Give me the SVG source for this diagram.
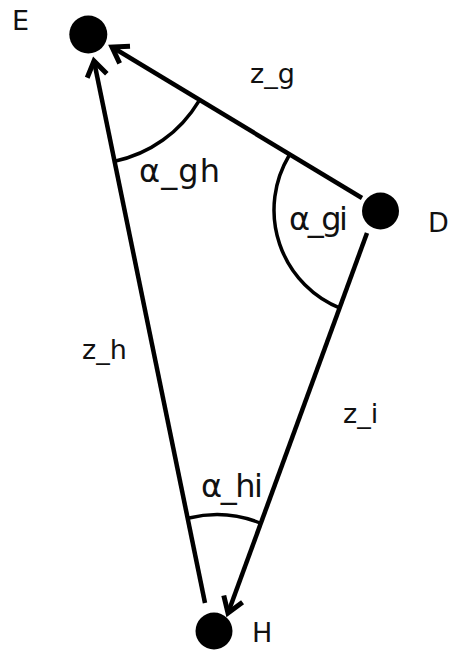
<svg xmlns="http://www.w3.org/2000/svg" width="450" height="652" viewBox="0 0 450 652">
<style>
.node{fill:#000}
.edge{stroke:#000;stroke-width:4.5;fill:none}
.arc{stroke:#000;stroke-width:3.5;fill:none}
.lbl{font-family:"DejaVu Sans",sans-serif;font-size:27px;fill:#111}
.ang{font-family:"DejaVu Sans",sans-serif;font-size:32px;fill:#111}
</style>
<defs>
<marker id="arr" markerUnits="userSpaceOnUse" markerWidth="30" markerHeight="30" viewBox="-16 -12 20 24" refX="0" refY="0" orient="auto">
<path d="M-12,-8 L0,0 L-12,8" stroke="#000" stroke-width="4" fill="none" stroke-linejoin="miter"/>
</marker>
</defs>
<rect width="450" height="652" fill="#fff"/>
<g id="connectors">
<line class="edge" x1="362" y1="198" x2="112" y2="47" marker-end="url(#arr)"/>
<line class="edge" x1="205" y1="603" x2="94" y2="61" marker-end="url(#arr)"/>
<line class="edge" x1="367" y1="233" x2="228" y2="613" marker-end="url(#arr)"/>
<text class="lbl" x="250" y="83">z_g</text>
<text class="lbl" x="82" y="359">z_h</text>
<text class="lbl" x="343" y="423">z_i</text>
</g>
<g id="angles">
<path class="arc" d="M114.7,161.2 A129,129 0 0 0 198.7,101.3"/>
<path class="arc" d="M289.1,155.5 A106,106 0 0 0 341.1,308.6"/>
<path class="arc" d="M189,518 A116,116 0 0 1 260,523"/>
<text class="ang" x="139" y="182" textLength="81" lengthAdjust="spacing">α_gh</text>
<text class="ang" x="289" y="230" textLength="59" lengthAdjust="spacing">α_gi</text>
<text class="ang" x="201" y="497" textLength="62" lengthAdjust="spacing">α_hi</text>
</g>
<g id="node-E">
<circle class="node" cx="88.3" cy="34.5" r="19"/>
<text class="lbl" x="12" y="30">E</text>
</g>
<g id="node-D">
<circle class="node" cx="380.5" cy="211" r="18.5"/>
<text class="lbl" x="428" y="232">D</text>
</g>
<g id="node-H">
<circle class="node" cx="214" cy="631" r="18.5"/>
<text class="lbl" x="252" y="642">H</text>
</g>
</svg>
